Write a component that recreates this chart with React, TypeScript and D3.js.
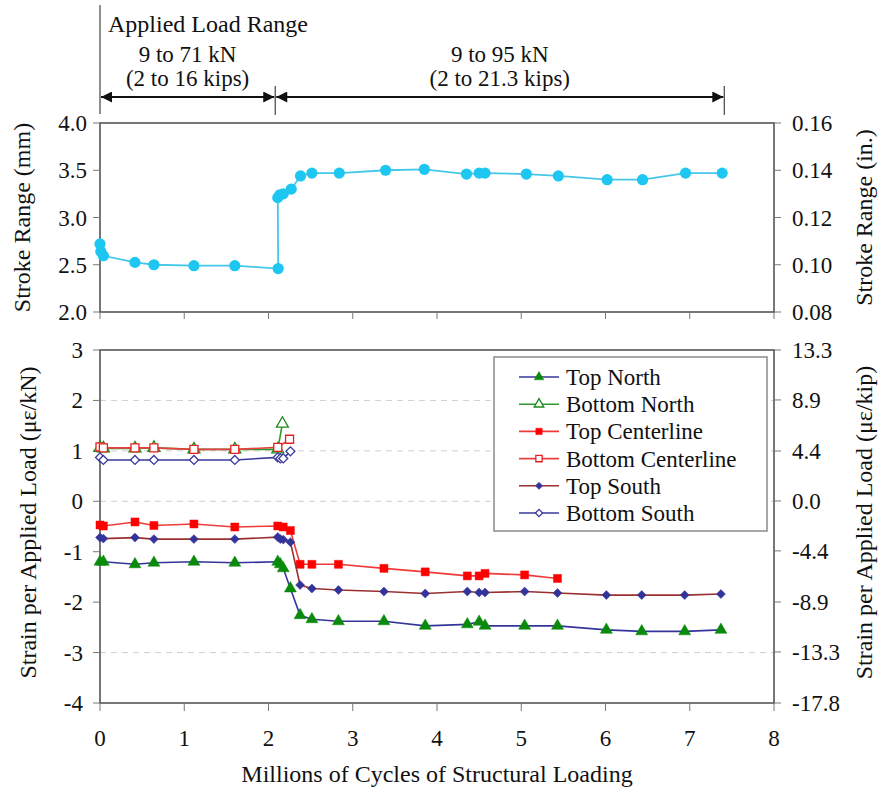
import React from "react";
import * as d3 from "d3";

// ---------- DATA ----------
const strokeCycles = [0, 0.01, 0.04, 0.415, 0.64, 1.115, 1.6, 2.115, 2.11, 2.135, 2.175, 2.27, 2.38, 2.515, 2.84, 3.39, 3.85, 4.35, 4.5, 4.57, 5.06, 5.44, 6.02, 6.44, 6.95, 7.385];
const strokeRange = [2.72, 2.64, 2.595, 2.525, 2.5, 2.49, 2.49, 2.46, 3.21, 3.24, 3.25, 3.3, 3.44, 3.47, 3.47, 3.5, 3.51, 3.46, 3.47, 3.47, 3.46, 3.44, 3.4, 3.4, 3.47, 3.47];

const topNorthX = [0, 0.04, 0.415, 0.64, 1.115, 1.6, 2.11, 2.14, 2.175, 2.26, 2.375, 2.515, 2.83, 3.37, 3.86, 4.36, 4.5, 4.57, 5.04, 5.43, 6.01, 6.43, 6.94, 7.37];
const topNorthY = [-1.2, -1.2, -1.25, -1.22, -1.2, -1.22, -1.2, -1.25, -1.33, -1.73, -2.26, -2.34, -2.38, -2.38, -2.47, -2.44, -2.39, -2.47, -2.47, -2.47, -2.55, -2.58, -2.58, -2.55];

const bottomNorthX = [0, 0.04, 0.415, 0.64, 1.115, 1.6, 2.11, 2.165];
const bottomNorthY = [1.06, 1.05, 1.05, 1.06, 1.03, 1.03, 1.03, 1.54];

const topCenterX = [0, 0.04, 0.415, 0.64, 1.115, 1.6, 2.11, 2.175, 2.26, 2.375, 2.515, 2.83, 3.37, 3.86, 4.36, 4.5, 4.57, 5.04, 5.43];
const topCenterY = [-0.47, -0.49, -0.41, -0.48, -0.45, -0.51, -0.49, -0.51, -0.58, -1.25, -1.25, -1.25, -1.33, -1.4, -1.48, -1.48, -1.43, -1.46, -1.53];

const bottomCenterX = [0, 0.04, 0.415, 0.64, 1.115, 1.6, 2.11, 2.25];
const bottomCenterY = [1.08, 1.06, 1.06, 1.06, 1.03, 1.03, 1.07, 1.23];

const topSouthX = [0, 0.04, 0.415, 0.64, 1.115, 1.6, 2.11, 2.14, 2.175, 2.26, 2.375, 2.515, 2.83, 3.37, 3.86, 4.36, 4.5, 4.57, 5.04, 5.43, 6.01, 6.43, 6.94, 7.37];
const topSouthY = [-0.72, -0.74, -0.72, -0.75, -0.75, -0.75, -0.71, -0.75, -0.76, -0.81, -1.66, -1.73, -1.76, -1.79, -1.83, -1.79, -1.81, -1.81, -1.79, -1.82, -1.86, -1.86, -1.86, -1.84];

const bottomSouthX = [0, 0.04, 0.415, 0.64, 1.115, 1.6, 2.11, 2.14, 2.175, 2.26];
const bottomSouthY = [0.87, 0.82, 0.82, 0.82, 0.82, 0.82, 0.87, 0.85, 0.85, 0.99];

const seriesNames = ["Top North", "Bottom North", "Top Centerline", "Bottom Centerline", "Top South", "Bottom South"];

const xTicks = [0, 1, 2, 3, 4, 5, 6, 7, 8];
const strokeMmTicks = ["2.0", "2.5", "3.0", "3.5", "4.0"];
const strokeInTicks = ["0.08", "0.10", "0.12", "0.14", "0.16"];
const strainKnTicks = [-4, -3, -2, -1, 0, 1, 2, 3];
const strainKipTicks = ["-17.8", "-13.3", "-8.9", "-4.4", "0.0", "4.4", "8.9", "13.3"];
const gridValues = [2, 1, 0, -3];

const loadPhaseBounds = [0, 2.08, 7.41];
const loadPhaseKn = ["9 to 71 kN", "9 to 95 kN"];
const loadPhaseKips = ["(2 to 16 kips)", "(2 to 21.3 kips)"];

// ---------- LAYOUT ----------
const W = 883, H = 789;
const x = d3.scaleLinear().domain([0, 8]).range([100, 774]);
const yTop = d3.scaleLinear().domain([2, 4]).range([312, 123]);
const yTopR = d3.scaleLinear().domain([0.08, 0.16]).range([312, 123]);
const yBot = d3.scaleLinear().domain([-4, 3]).range([703, 350]);
const yBotR = d3.scaleLinear().domain([-17.8, 13.3]).range([703, 350]);

type Series = { name: string; xs: number[]; ys: number[]; line: string; marker: "tri" | "sq" | "dia"; fill: string; stroke: string; open: boolean };

const series: Series[] = [
  { name: seriesNames[0], xs: topNorthX, ys: topNorthY, line: "#34359a", marker: "tri", fill: "#0a8a0a", stroke: "#0a8a0a", open: false },
  { name: seriesNames[1], xs: bottomNorthX, ys: bottomNorthY, line: "#2e9a2e", marker: "tri", fill: "#ffffff", stroke: "#1a8a1a", open: true },
  { name: seriesNames[2], xs: topCenterX, ys: topCenterY, line: "#f03a3a", marker: "sq", fill: "#ff0000", stroke: "#ff0000", open: false },
  { name: seriesNames[3], xs: bottomCenterX, ys: bottomCenterY, line: "#e84040", marker: "sq", fill: "#ffffff", stroke: "#e82020", open: true },
  { name: seriesNames[4], xs: topSouthX, ys: topSouthY, line: "#9a3030", marker: "dia", fill: "#33349a", stroke: "#33349a", open: false },
  { name: seriesNames[5], xs: bottomSouthX, ys: bottomSouthY, line: "#3a3a9e", marker: "dia", fill: "#ffffff", stroke: "#3a3a9e", open: true },
];

function markerPath(m: string) {
  if (m === "tri") return d3.symbol().type(d3.symbolTriangle).size(62)() as string;
  if (m === "sq") return d3.symbol().type(d3.symbolSquare).size(64)() as string;
  return d3.symbol().type(d3.symbolSquare).size(40)() as string;
}
function markerSmall(m: string) {
  if (m === "tri") return d3.symbol().type(d3.symbolTriangle).size(40)() as string;
  if (m === "sq") return d3.symbol().type(d3.symbolSquare).size(40)() as string;
  return d3.symbol().type(d3.symbolSquare).size(26)() as string;
}

function Marker({ s, cx, cy, small }: { s: Series; cx: number; cy: number; small?: boolean }) {
  const rot = s.marker === "dia" ? " rotate(45)" : "";
  return (
    <path
      d={small ? markerSmall(s.marker) : markerPath(s.marker)}
      transform={`translate(${cx},${cy})${rot}`}
      fill={s.fill}
      stroke={s.stroke}
      strokeWidth={s.open ? 1.3 : 0.5}
    />
  );
}

const CSS = `.ser { font-family: 'Liberation Serif', serif !important; }`;

function T(props: any) {
  const { children, ...rest } = props;
  return (
    <text className="ser" fill="#111" {...rest}>
      {children}
    </text>
  );
}

export default function App() {
  const strokeLine = d3.line<number>().x((_, i) => x(strokeCycles[i])).y((v) => yTop(v));
  const axisColor = "#555";
  const tickFs = 23;

  return (
    <div style={{ position: "absolute", left: 0, top: 0, width: W, height: H, background: "#fff" }}>
      <style>{CSS}</style>
      <svg width={W} height={H}>
        {/* ---------- Header: applied load range ---------- */}
        <defs>
          <marker id="ah" viewBox="0 0 10 10" refX="10" refY="5" markerWidth="6" markerHeight="5" orient="auto-start-reverse">
            <path d="M0,0 L10,5 L0,10 Z" fill="#111" />
          </marker>
        </defs>
        <line x1={x(0)} x2={x(0)} y1={5} y2={114} stroke="#444" strokeWidth={1.2} />
        <line x1={x(loadPhaseBounds[1])} x2={x(loadPhaseBounds[1])} y1={86} y2={115} stroke="#444" strokeWidth={1.2} />
        <line x1={x(loadPhaseBounds[2])} x2={x(loadPhaseBounds[2])} y1={86} y2={115} stroke="#444" strokeWidth={1.2} />
        <T x={108} y={32} fontSize={24}>Applied Load Range</T>
        {[0, 1].map((i) => {
          const x0 = x(loadPhaseBounds[i]);
          const x1 = x(loadPhaseBounds[i + 1]);
          const cx = (x0 + x1) / 2;
          return (
            <g key={i}>
              <T x={cx} y={62} fontSize={23} textAnchor="middle">{loadPhaseKn[i]}</T>
              <T x={cx} y={86} fontSize={23} textAnchor="middle">{loadPhaseKips[i]}</T>
              <line x1={x0 + 1} x2={x1 - 1} y1={97} y2={97} stroke="#111" strokeWidth={2.2} markerStart="url(#ah)" markerEnd="url(#ah)" />
            </g>
          );
        })}

        {/* ---------- Top panel ---------- */}
        <rect x={x(0)} y={yTop(4)} width={x(8) - x(0)} height={yTop(2) - yTop(4)} fill="none" stroke={axisColor} strokeWidth={1.6} />
        {xTicks.map((t) => (
          <line key={"tx" + t} x1={x(t)} x2={x(t)} y1={yTop(2)} y2={yTop(2) + 7} stroke="#777" strokeWidth={1} />
        ))}
        {strokeMmTicks.map((t) => (
          <g key={"tl" + t}>
            <line x1={x(0) - 7} x2={x(0)} y1={yTop(+t)} y2={yTop(+t)} stroke="#777" strokeWidth={1} />
            <T x={87} y={yTop(+t)} dy="0.35em" fontSize={tickFs} textAnchor="end">{t}</T>
          </g>
        ))}
        {strokeInTicks.map((t) => (
          <g key={"tr" + t}>
            <line x1={x(8)} x2={x(8) + 7} y1={yTopR(+t)} y2={yTopR(+t)} stroke="#777" strokeWidth={1} />
            <T x={792} y={yTopR(+t)} dy="0.35em" fontSize={tickFs} textAnchor="start">{t}</T>
          </g>
        ))}
        <T transform={`translate(22,${(yTop(2) + yTop(4)) / 2}) rotate(-90)`} dy="0.35em" fontSize={24} textAnchor="middle">Stroke Range (mm)</T>
        <T transform={`translate(864,${(yTop(2) + yTop(4)) / 2}) rotate(-90)`} dy="0.35em" fontSize={24} textAnchor="middle">Stroke Range (in.)</T>
        <path d={strokeLine(strokeRange) as string} fill="none" stroke="#45c8e8" strokeWidth={1.8} />
        {strokeRange.map((v, i) => (
          <circle key={"sp" + i} cx={x(strokeCycles[i])} cy={yTop(v)} r={5.6} fill="#1ec6f2" />
        ))}

        {/* ---------- Bottom panel ---------- */}
        {gridValues.map((g) => (
          <line key={"g" + g} x1={x(0)} x2={x(8)} y1={yBot(g)} y2={yBot(g)} stroke="#cfcfcf" strokeWidth={1} strokeDasharray="6,5" />
        ))}
        <rect x={x(0)} y={yBot(3)} width={x(8) - x(0)} height={yBot(-4) - yBot(3)} fill="none" stroke={axisColor} strokeWidth={1.6} />
        {xTicks.map((t) => (
          <g key={"bx" + t}>
            <line x1={x(t)} x2={x(t)} y1={yBot(-4)} y2={yBot(-4) + 8} stroke="#777" strokeWidth={1} />
            <T x={x(t)} y={746} fontSize={tickFs} textAnchor="middle">{t}</T>
          </g>
        ))}
        {strainKnTicks.map((t) => (
          <g key={"bl" + t}>
            <line x1={x(0) - 7} x2={x(0)} y1={yBot(t)} y2={yBot(t)} stroke="#777" strokeWidth={1} />
            <T x={83} y={yBot(t)} dy="0.35em" fontSize={tickFs} textAnchor="end">{t}</T>
          </g>
        ))}
        {strainKipTicks.map((t) => (
          <g key={"br" + t}>
            <line x1={x(8)} x2={x(8) + 7} y1={yBotR(+t)} y2={yBotR(+t)} stroke="#777" strokeWidth={1} />
            <T x={792} y={yBotR(+t)} dy="0.35em" fontSize={tickFs} textAnchor="start">{t}</T>
          </g>
        ))}
        <T transform={`translate(28,${(yBot(-4) + yBot(3)) / 2 - 4}) rotate(-90)`} dy="0.35em" fontSize={24} textAnchor="middle">Strain per Applied Load (με/kN)</T>
        <T transform={`translate(864,${(yBot(-4) + yBot(3)) / 2 - 4}) rotate(-90)`} dy="0.35em" fontSize={24} textAnchor="middle">Strain per Applied Load (με/kip)</T>
        <T x={(x(0) + x(8)) / 2} y={782} fontSize={24} textAnchor="middle">Millions of Cycles of Structural Loading</T>

        {series.map((s) => {
          const ln = d3.line<number>().x((_, i) => x(s.xs[i])).y((v) => yBot(v));
          return (
            <g key={s.name}>
              <path d={ln(s.ys) as string} fill="none" stroke={s.line} strokeWidth={1.6} />
              {s.ys.map((v, i) => (
                <Marker key={i} s={s} cx={x(s.xs[i])} cy={yBot(v)} />
              ))}
            </g>
          );
        })}

        {/* ---------- Legend ---------- */}
        <rect x={494} y={357} width={273} height={174} fill="#fff" stroke="#8a8a8a" strokeWidth={1.5} />
        {series.map((s, i) => {
          const cy = 377 + i * 27.2;
          return (
            <g key={"lg" + i}>
              <line x1={519} x2={559} y1={cy} y2={cy} stroke={s.line} strokeWidth={1.6} />
              <Marker s={s} cx={539} cy={cy} small />
              <T x={566} y={cy} dy="0.35em" fontSize={23}>{s.name}</T>
            </g>
          );
        })}
      </svg>
    </div>
  );
}
